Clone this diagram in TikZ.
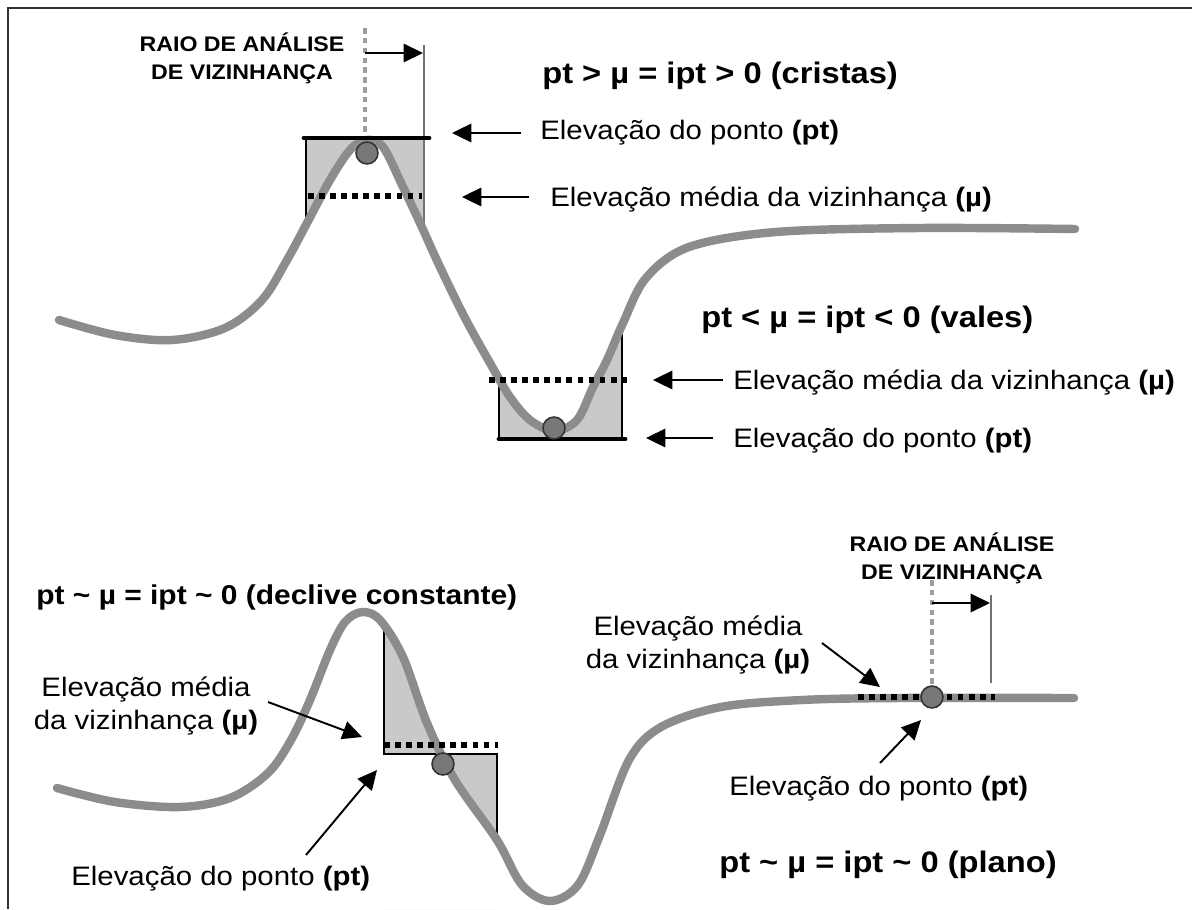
\documentclass[tikz,border=0pt]{standalone}
\usepackage{fontspec}
\setmainfont{Liberation Sans}[FakeStretch=1.1]
\usetikzlibrary{arrows.meta}
\definecolor{ridgegray}{gray}{0.55}
\definecolor{areagray}{gray}{0.79}
\definecolor{dotgray}{gray}{0.47}
\definecolor{axisgray}{gray}{0.62}
\begin{document}
\begin{tikzpicture}[x=0.02cm, y=-0.02cm,
    ridge/.style={draw=ridgegray, line width=4.8pt, line cap=round, line join=round},
    area/.style={fill=areagray, even odd rule},
    boxedge/.style={draw=black, line width=0.8pt},
    ptline/.style={line width=2.8pt, line cap=round},
    muline/.style={line width=2.9pt, dash pattern=on 3.3pt off 3pt},
    axisline/.style={draw=axisgray, line width=2.3pt, dash pattern=on 3.2pt off 2.4pt},
    reachline/.style={draw=black!55, line width=0.9pt},
    arr/.style={-{Triangle[length=11pt,width=10.5pt]}, line width=1.1pt},
    ptdot/.style={circle, draw=black!80, line width=0.9pt, fill=dotgray,
      minimum size=12.5pt, inner sep=0pt},
    lbl/.style={font=\fontsize{15.2}{19.3}\selectfont, inner sep=0pt},
    formula/.style={font=\fontsize{16.9}{19}\selectfont\bfseries, anchor=base west, inner sep=0pt},
    raiolabel/.style={font=\fontsize{12}{15.9}\selectfont\bfseries, align=center, inner sep=0pt},
  ]
  \useasboundingbox (0,0) rectangle (1192,909);
  \def\topcurve{plot[smooth, tension=0.55] coordinates {(59,320) (115,335) (172,340)
      (225,328) (262,300) (287,260) (307,223) (330,180) (350,150) (366,140) (383,147)
      (403,187) (420,223) (440,267) (465,318) (490,363) (510,397) (530,420) (554,431)
      (577,420) (593,387) (607,360) (623,323) (646,278) (689,247) (776,232) (920,228)
      (1075,229)}}
  \def\lowcurve{plot[smooth, tension=0.55] coordinates {(57,788) (115,802) (180,807)
      (230,798) (268,773) (291,740) (310,700) (330,650) (345,622) (362,612) (380,620)
      (403,657) (427,723) (455,780) (497,840) (522,885) (550,901) (578,885) (600,835)
      (629,760) (661,727) (721,707) (802,700) (900,698) (1074,698)}}

  % frame
  \draw[line width=1.6pt, black!80] (8,909) -- (8,8) -- (1192,8);

  % --- crest window ---
  \begin{scope}
    \clip (306,100) rectangle (424,400);
    \fill[area] \topcurve -- (1075,909) -- (59,909) -- cycle (0,138) rectangle (1192,909);
  \end{scope}
  \draw[boxedge] (306,138) -- (306,224);
  \draw[reachline] (424,45) -- (424,232);

  % --- valley window ---
  \begin{scope}
    \clip (499,300) rectangle (622,439);
    \fill[area] \topcurve -- (1075,909) -- (59,909) -- cycle;
  \end{scope}
  \draw[boxedge] (499,439) -- (499,380);
  \draw[boxedge] (622,439) -- (622,328);

  % --- slope window ---
  \begin{scope}
    \clip (384,580) rectangle (497,909);
    \fill[area] \lowcurve -- (1074,909) -- (57,909) -- cycle (0,754) rectangle (1192,909);
  \end{scope}
  \draw[boxedge] (384,628) -- (384,754) -- (497,754) -- (497,842);

  % terrain profiles
  \draw[ridge] \topcurve;
  \draw[ridge] \lowcurve;

  % mean and point elevations
  \draw[ptline] (304,138) -- (429,138);
  \draw[muline] (308,196) -- (422,196);
  \draw[muline] (489,380) -- (627,380);
  \draw[ptline] (499,439) -- (625,439);
  \draw[muline] (384,745) -- (498,745);
  \draw[muline] (858,697) -- (995,697);

  % neighbourhood radius markers
  \draw[axisline] (365,28) -- (365,132);
  \draw[axisline] (932,580) -- (932,690);
  \draw[reachline] (991,595) -- (991,683);
  \coordinate (rc0) at (365,53);  \coordinate (rc1) at (423,53);
  \coordinate (rp0) at (932,603); \coordinate (rp1) at (990,603);
  \draw[arr, line width=0.9pt] (rc0) -- (rc1);
  \draw[arr, line width=0.9pt] (rp0) -- (rp1);

  % points
  \node[ptdot] (pcrest) at (367,153) {};
  \node[ptdot] (pvale) at (554,428) {};
  \node[ptdot] (pslope) at (443,764) {};
  \node[ptdot] (pflat) at (932,697) {};

  % --- labels, upper profile ---
  \node[raiolabel] (raiotop) at (242,58) {RAIO DE ANÁLISE\\DE VIZINHANÇA};
  \node[formula] (cristas) at (542,84) {pt > µ = ipt > 0 (cristas)};
  \node[lbl, anchor=base west] (ptcrest) at (540,139) {Elevação do ponto \textbf{(pt)}};
  \node[lbl, anchor=base west] (mucrest) at (550,206) {Elevação média da vizinhança \textbf{(µ)}};
  \node[formula] (vales) at (701,327) {pt < µ = ipt < 0 (vales)};
  \node[lbl, anchor=base west] (muvale) at (733,389) {Elevação média da vizinhança \textbf{(µ)}};
  \node[lbl, anchor=base west] (ptvale) at (733,447) {Elevação do ponto \textbf{(pt)}};

  \coordinate (a1) at (521,133); \coordinate (b1) at (452,133);
  \coordinate (a2) at (529,197); \coordinate (b2) at (462,197);
  \coordinate (a3) at (723,380); \coordinate (b3) at (653,380);
  \coordinate (a4) at (713,438); \coordinate (b4) at (646,438);
  \draw[arr] (a1) -- (b1);
  \draw[arr] (a2) -- (b2);
  \draw[arr] (a3) -- (b3);
  \draw[arr] (a4) -- (b4);

  % --- labels, lower profile ---
  \node[formula, font=\fontsize{15.5}{19}\selectfont\bfseries] (declive) at (36,604)
    {pt \textasciitilde{} µ = ipt \textasciitilde{} 0 (declive constante)};
  \node[lbl, align=center] (muslope) at (146,706) {Elevação média\\da vizinhança \textbf{(µ)}};
  \node[lbl, anchor=base west] (ptslope) at (71,885) {Elevação do ponto \textbf{(pt)}};
  \node[raiolabel] (raiolow) at (952,558) {RAIO DE ANÁLISE\\DE VIZINHANÇA};
  \node[lbl, align=center] (muflat) at (698,645) {Elevação média\\da vizinhança \textbf{(µ)}};
  \node[lbl, anchor=base west] (ptflat) at (729,795) {Elevação do ponto \textbf{(pt)}};
  \node[formula] (plano) at (719,872) {pt \textasciitilde{} µ = ipt \textasciitilde{} 0 (plano)};

  \coordinate (a5) at (268,702); \coordinate (b5) at (362,737);
  \coordinate (a6) at (306,855); \coordinate (b6) at (377,770);
  \coordinate (a7) at (822,643); \coordinate (b7) at (880,687);
  \coordinate (a8) at (880,763); \coordinate (b8) at (921,720);
  \draw[arr] (a5) -- (b5);
  \draw[arr] (a6) -- (b6);
  \draw[arr] (a7) -- (b7);
  \draw[arr] (a8) -- (b8);
\end{tikzpicture}
\end{document}
